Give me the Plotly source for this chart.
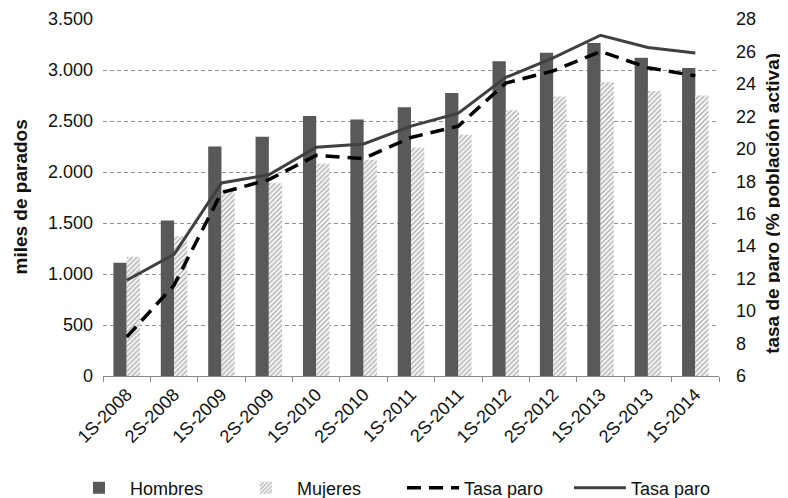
import plotly.graph_objects as go

categories = ["1S-2008", "2S-2008", "1S-2009", "2S-2009", "1S-2010", "2S-2010", "1S-2011",
              "2S-2011", "1S-2012", "2S-2012", "1S-2013", "2S-2013", "1S-2014"]
hombres = [1110, 1525, 2250, 2345, 2550, 2515, 2635, 2775, 3085, 3170, 3265, 3120, 3020]
mujeres = [1170, 1370, 1830, 1890, 2080, 2120, 2240, 2365, 2605, 2740, 2880, 2795, 2750]
tasa_paro_dash = [8.4, 11.6, 17.3, 18.1, 19.6, 19.4, 20.7, 21.4, 24.05, 24.8, 26.0, 25.0, 24.5]
tasa_paro_solid = [11.9, 13.5, 17.9, 18.4, 20.1, 20.3, 21.4, 22.2, 24.4, 25.6, 27.0, 26.25, 25.9]

left_title = "miles de parados"
right_title = "tasa de paro (% población activa)"

font_family = "Liberation Sans, Arial, sans-serif"

# page body has an 8px margin; figure is sized to fill the rest of the window
W, H = 780, 490
ML, MR, MT, MB = 95, 69, 11, 122
PW = W - ML - MR

fig = go.Figure()
fig.add_trace(go.Bar(x=categories, y=hombres, name="Hombres",
                     marker=dict(color="#595959", line=dict(width=0))))
fig.add_trace(go.Bar(x=categories, y=mujeres, name="Mujeres",
                     marker=dict(color="white", line=dict(width=0),
                                 pattern=dict(shape="/", fgcolor="#707070", bgcolor="white",
                                              size=3.5, solidity=0.5))))
fig.add_trace(go.Scatter(x=categories, y=tasa_paro_dash, name="Tasa paro", yaxis="y2",
                         mode="lines", line=dict(color="black", width=3.5, dash="14px,8px")))
fig.add_trace(go.Scatter(x=categories, y=tasa_paro_solid, name="Tasa paro", yaxis="y2",
                         mode="lines", line=dict(color="#404040", width=3)))

fig.update_layout(
    width=W, height=H,
    margin=dict(l=ML, r=MR, t=MT, b=MB, autoexpand=False),
    paper_bgcolor="white", plot_bgcolor="white",
    separators=",.",
    font=dict(family=font_family, size=18, color="#111"),
    barmode="group", bargap=0.44, bargroupgap=0,
    showlegend=True,
    legend=dict(orientation="h", xref="paper", x=(60 - ML) / PW, xanchor="left",
                y=-0.314, yanchor="middle",
                font=dict(size=18), itemwidth=52, entrywidth=100, tracegroupgap=0),
    xaxis=dict(type="category", tickangle=-45, tickson="boundaries", ticks="outside",
               ticklen=5, tickcolor="#888", showline=True, linecolor="#888", linewidth=1,
               showgrid=False, tickfont=dict(size=18), automargin=False),
    yaxis=dict(range=[0, 3500], dtick=500, tickformat=",d", showgrid=True,
               gridcolor="#909090", griddash="4px,3px", gridwidth=1, zeroline=False,
               showline=False, ticks="", tickfont=dict(size=18), automargin=False,
               ticklabelstandoff=9),
    yaxis2=dict(range=[6, 28], dtick=2, overlaying="y", side="right", showgrid=False,
                zeroline=False, showline=False, ticks="", tickfont=dict(size=18),
                automargin=False, ticklabelstandoff=16),
    annotations=[
        dict(text="<b>" + left_title + "</b>", xref="paper", yref="paper",
             x=(12 - ML) / PW, y=0.5, textangle=-90, showarrow=False,
             xanchor="center", yanchor="middle", font=dict(size=19)),
        dict(text="<b>" + right_title + "</b>", xref="paper", yref="paper",
             x=(765 - ML) / PW, y=0.485, textangle=-90, showarrow=False,
             xanchor="center", yanchor="middle", font=dict(size=19)),
    ],
)

fig.write_html("out.html")
